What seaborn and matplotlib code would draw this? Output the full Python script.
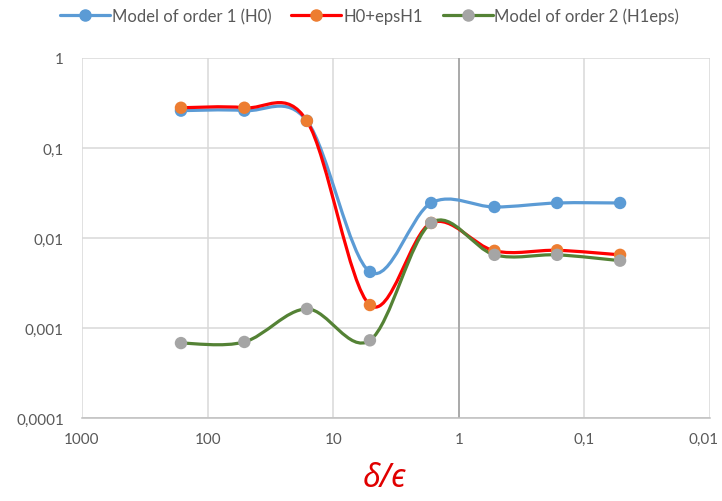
import numpy as np
import pandas as pd
import seaborn as sns
import matplotlib
matplotlib.use('Agg')
import matplotlib.pyplot as plt
from matplotlib import ticker
from matplotlib.path import Path
from matplotlib.patches import PathPatch
from matplotlib.lines import Line2D
from matplotlib.transforms import ScaledTranslation

# data
ratio = [163, 51, 16.2, 5.1, 1.66, 0.52, 0.165, 0.052]
order1_h0 = [0.26, 0.26, 0.2, 0.0042, 0.0245, 0.0221, 0.0245, 0.0245]
h0_eps_h1 = [0.28, 0.28, 0.2, 0.0018, 0.0147, 0.0072, 0.0073, 0.0065]
order2_h1eps = [0.00068, 0.00070, 0.00163, 0.00073, 0.0147, 0.0065, 0.0065, 0.0056]
series_names = ['Model of order 1 (H0)', 'H0+epsH1', 'Model of order 2 (H1eps)']

line_colors = ['#5B9BD5', '#FF0000', '#548235']
marker_colors = ['#5B9BD5', '#ED7D31', '#A5A5A5']


def smooth_path(x, y):
    # Excel-like smoothed line: Catmull-Rom bezier built in log-log space
    lx = np.log10(np.asarray(x, dtype=float))
    ly = np.log10(np.asarray(y, dtype=float))
    pts = np.column_stack([lx, ly])
    n = len(pts)
    verts = [pts[0]]
    codes = [Path.MOVETO]
    for i in range(n - 1):
        p0 = pts[max(i - 1, 0)]
        p1 = pts[i]
        p2 = pts[i + 1]
        p3 = pts[min(i + 2, n - 1)]
        c1 = p1 + (p2 - p0) / 6.0
        c2 = p2 - (p3 - p1) / 6.0
        verts += [c1, c2, p2]
        codes += [Path.CURVE4] * 3
    verts = 10 ** np.array(verts)
    return Path(verts, codes)


df = pd.DataFrame({
    'ratio': ratio * 3,
    'value': order1_h0 + h0_eps_h1 + order2_h1eps,
    'series': sum([[s] * len(ratio) for s in series_names], []),
})

sns.set_style('white')
plt.rcParams['font.family'] = ['Lato', 'DejaVu Sans']

fig = plt.figure(figsize=(7.22, 5.02), dpi=100)
ax = fig.add_axes([0.1136, 0.1653, 0.8698, 0.7172])
ax.set_xscale('log')
ax.set_yscale('log')
ax.set_xlim(1000, 0.01)
ax.set_ylim(0.0001, 1)

for k, name in enumerate(series_names):
    sub = df[df['series'] == name]
    patch = PathPatch(smooth_path(sub['ratio'], sub['value']),
                      facecolor='none', edgecolor=line_colors[k],
                      lw=2.3, zorder=2 + k * 0.1, capstyle='round')
    ax.add_patch(patch)
    sns.scatterplot(data=sub, x='ratio', y='value', ax=ax, s=80,
                    color=marker_colors[k], edgecolor='none',
                    zorder=3 + k * 0.1, legend=False)

ax.grid(True, which='major', color='#d9d9d9', lw=1.1)
ax.minorticks_off()
for s in ['top', 'right', 'left']:
    ax.spines[s].set_visible(False)
ax.spines['bottom'].set_color('#bfbfbf')
ax.spines['bottom'].set_linewidth(1.1)
ax.axvline(1, color='#a6a6a6', lw=1.3, zorder=1.5)


def comma_fmt(v, pos):
    s = ('%.4f' % v).rstrip('0').rstrip('.')
    return s.replace('.', ',')


x_ticks = [1000, 100, 10, 1, 0.1, 0.01]
y_ticks = [0.0001, 0.001, 0.01, 0.1, 1]
ax.set_xticks(x_ticks)
ax.set_yticks(y_ticks)
ax.xaxis.set_major_formatter(ticker.FuncFormatter(comma_fmt))
ax.yaxis.set_major_formatter(ticker.FuncFormatter(comma_fmt))
ax.tick_params(axis='both', length=0, labelsize=11, colors='#595959')
ax.tick_params(axis='x', pad=10)
ax.tick_params(axis='y', pad=13)
# keep the last x label inside the canvas
last = ax.get_xticklabels()[-1]
last.set_transform(last.get_transform() +
                   ScaledTranslation(-5 / 72, 0, fig.dpi_scale_trans))

ax.set_xlabel('δ/ϵ', color='#E00000', fontsize=23, style='italic',
              family=['Noto Sans', 'DejaVu Sans'])
ax.xaxis.set_label_coords(0.481, -0.118)
ax.set_ylabel('')

handles = [Line2D([0], [0], color=line_colors[k], lw=2.3, marker='o',
                  markersize=8, markerfacecolor=marker_colors[k],
                  markeredgecolor=marker_colors[k])
           for k in range(3)]
fig.legend(handles, series_names, loc='upper center', ncol=3,
           bbox_to_anchor=(0.512, 1.013), frameon=False, fontsize=12,
           handlelength=3.0, columnspacing=1.2, handletextpad=0.1,
           labelcolor='#595959')

fig.savefig('out.png', dpi=100)
